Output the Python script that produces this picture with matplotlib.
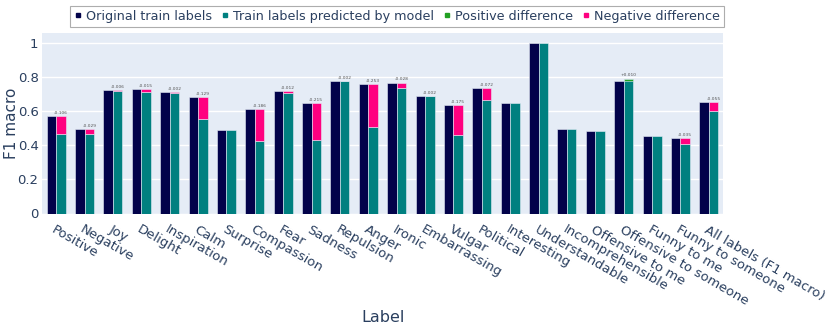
import matplotlib
matplotlib.use("Agg")
import matplotlib.pyplot as plt
import numpy as np
from matplotlib.lines import Line2D

categories = ["Positive", "Negative", "Joy", "Delight", "Inspiration", "Calm", "Surprise",
              "Compassion", "Fear", "Sadness", "Repulsion", "Anger", "Ironic", "Embarrassing",
              "Vulgar", "Political", "Interesting", "Understandable", "Incomprehensible",
              "Offensive to me", "Offensive to someone", "Funny to me", "Funny to someone",
              "All labels (F1 macro)"]
original = [0.572, 0.496, 0.724, 0.728, 0.711, 0.681, 0.490, 0.611, 0.718, 0.646, 0.777,
            0.758, 0.767, 0.689, 0.634, 0.736, 0.648, 1.000, 0.494, 0.482, 0.780, 0.455,
            0.441, 0.654]
predicted = [0.466, 0.466, 0.718, 0.714, 0.709, 0.552, 0.490, 0.425, 0.705, 0.431, 0.775,
             0.505, 0.738, 0.687, 0.459, 0.664, 0.648, 1.000, 0.494, 0.482, 0.790, 0.455,
             0.406, 0.599]
diff_labels = ["-0.106", "-0.029", "-0.006", "-0.015", "-0.002", "-0.129", "",
               "-0.186", "-0.012", "-0.215", "-0.002", "-0.253", "-0.028", "-0.002",
               "-0.175", "-0.072", "", "", "", "", "+0.010", "", "-0.035", "-0.055"]
legend_labels = ["Original train labels", "Train labels predicted by model",
                 "Positive difference", "Negative difference"]

NAVY = "#02024a"
TEAL = "#008080"
GREEN = "#22a022"
PINK = "#ff0080"
BG = "#E5ECF6"
TXT = "#2a3f5f"

plt.rcParams['font.family'] = ['DejaVu Sans']

fig = plt.figure(figsize=(8.3, 3.32), dpi=100)
ax = fig.add_axes([42/830, 1-213.5/332, (723-42)/830, (213.5-33)/332])
ax.set_facecolor(BG)

x = np.arange(len(categories))
w = 0.335
orig = np.array(original)
pred = np.array(predicted)
lw = 0.4
ax.bar(x - w/2, orig, w, color=NAVY, edgecolor=BG, linewidth=lw, zorder=3)
ax.bar(x + w/2, pred, w, color=TEAL, edgecolor=BG, linewidth=lw, zorder=3)
d = pred - orig
lo = np.minimum(orig, pred)
hi = np.maximum(orig, pred)
cols = [GREEN if v > 0 else PINK for v in d]
mask = np.abs(d) > 1e-9
ax.bar((x + w/2)[mask], (hi - lo)[mask], w, bottom=lo[mask], color=np.array(cols)[mask],
       edgecolor=BG, linewidth=lw, zorder=4)
for xi, top, lab in zip(x, hi, diff_labels):
    if lab:
        ax.text(xi + w/2, top + 0.008, lab, ha='center', va='bottom', fontsize=3.2,
                color='#555555', zorder=5)

ax.set_xlim(-0.5, len(categories) - 0.5)
ax.set_ylim(0, 1.059)
ax.set_yticks([0, 0.2, 0.4, 0.6, 0.8, 1.0])
ax.set_yticklabels(["0", "0.2", "0.4", "0.6", "0.8", "1"])
ax.grid(axis='y', color='white', linewidth=1, zorder=0)
ax.set_axisbelow(True)
for s in ax.spines.values():
    s.set_visible(False)
ax.tick_params(axis='both', length=0, colors=TXT, labelsize=9.5)
ax.tick_params(axis='y', pad=2.5)
ax.set_xticks(x)
ax.set_xticklabels(categories, rotation=-30, ha='left', va='top', rotation_mode='anchor')
ax.tick_params(axis='x', pad=7)
ax.set_ylabel("F1 macro", fontsize=11, color=TXT)
ax.yaxis.set_label_coords(-23.5/681, 0.5)
fig.text(383/830, 1-318/332, "Label", ha='center', va='center', fontsize=11.5, color=TXT)

handles = [Line2D([0], [0], marker='s', linestyle='none', markersize=3.5, color=c)
           for c in [NAVY, TEAL, GREEN, PINK]]
leg = fig.legend(handles, legend_labels, loc='upper center', bbox_to_anchor=(397/830, 0.982),
                 ncol=4, fontsize=9.2, frameon=True, fancybox=False, handlelength=0.6,
                 handletextpad=0.35, columnspacing=0.7, borderpad=0.3, borderaxespad=0,
                 labelcolor=TXT)
leg.get_frame().set_edgecolor('#999999')
leg.get_frame().set_linewidth(0.8)

fig.savefig("out.png", dpi=100)
